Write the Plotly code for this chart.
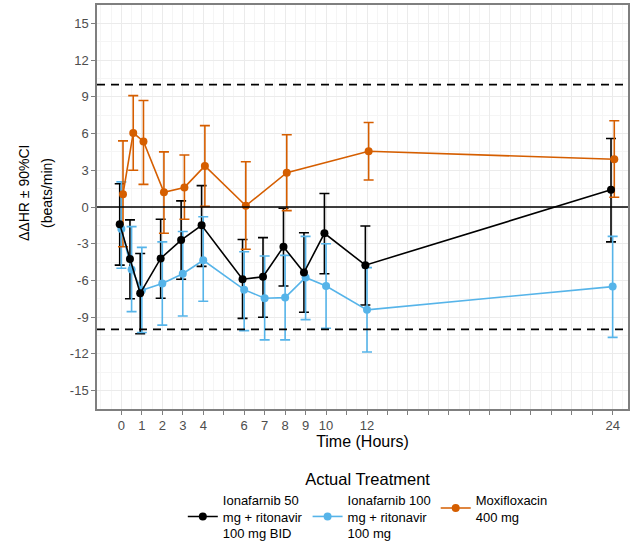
import plotly.graph_objects as go

# ---- data ----
ticks_hours = list(range(0, 25))
tick_labels_shown = [0, 1, 2, 3, 4, 6, 7, 8, 9, 10, 12, 24]
y_ticks = [-15, -12, -9, -6, -3, 0, 3, 6, 9, 12, 15]

# Ionafarnib 50 mg + ritonavir 100 mg BID
t_50 = [0, 0.5, 1, 2, 3, 4, 6, 7, 8, 9, 10, 12, 24]
v_50 = [-1.4, -4.25, -7.05, -4.2, -2.7, -1.5, -5.9, -5.7, -3.25, -5.35, -2.15, -4.75, 1.4]
hi_50 = [1.9, -1.05, -3.8, -1.0, 0.5, 1.75, -2.65, -2.5, -0.1, -2.1, 1.1, -1.55, 5.6]
lo_50 = [-4.75, -7.5, -10.35, -7.45, -5.9, -4.85, -9.1, -9.0, -6.45, -8.6, -5.45, -8.0, -2.85]

# Ionafarnib 100 mg + ritonavir 100 mg
t_100 = [0, 0.5, 1, 2, 3, 4, 6, 7, 8, 9, 10, 12, 24]
v_100 = [-1.8, -5.1, -6.8, -6.25, -5.45, -4.35, -6.75, -7.45, -7.4, -5.75, -6.45, -8.4, -6.5]
hi_100 = [2.05, -1.6, -3.3, -2.85, -2.0, -0.8, -3.65, -4.0, -3.95, -2.4, -3.0, -4.95, -2.4]
lo_100 = [-5.0, -8.55, -10.25, -9.65, -8.9, -7.7, -10.1, -10.85, -10.85, -9.2, -9.9, -11.85, -10.65]

# Moxifloxacin 400 mg
t_moxi = [0, 0.5, 1, 2, 3, 4, 6, 8, 12, 24]
v_moxi = [1.05, 6.05, 5.35, 1.2, 1.6, 3.35, 0.1, 2.8, 4.55, 3.9]
hi_moxi = [5.4, 9.1, 8.7, 4.5, 4.25, 6.65, 3.7, 5.9, 6.9, 7.05]
lo_moxi = [-3.25, 3.0, 1.85, -2.15, -1.0, 0.05, -3.45, -0.3, 2.2, 0.8]

series = [
    ("Ionafarnib 50<br>mg + ritonavir<br>100 mg BID", t_50, v_50, hi_50, lo_50, "#000000", -0.08, 1),
    ("Ionafarnib 100<br>mg + ritonavir<br>100 mg", t_100, v_100, hi_100, lo_100, "#56B4E9", 0.0, 2),
    ("Moxifloxacin<br>400 mg", t_moxi, v_moxi, hi_moxi, lo_moxi, "#D55E00", 0.08, 3),
]

ref_solid = 0
ref_dashed = [10, -10]

FONT = "Liberation Sans, Arial, sans-serif"

fig = go.Figure()

# error bars layer
for name, t, v, hi, lo, col, dx, rank in series:
    fig.add_trace(go.Scatter(
        x=[ti + dx for ti in t], y=v, mode="markers",
        marker=dict(size=1, opacity=0, color=col),
        error_y=dict(type="data", symmetric=False,
                     array=[h - m for h, m in zip(hi, v)],
                     arrayminus=[m - l for m, l in zip(v, lo)],
                     color=col, thickness=1.6, width=5),
        showlegend=False, hoverinfo="skip"))

# lines + points layer (black drawn last, on top)
for name, t, v, hi, lo, col, dx, rank in reversed(series):
    fig.add_trace(go.Scatter(
        x=[ti + dx for ti in t], y=v, mode="lines+markers", name=name,
        legendrank=rank,
        line=dict(color=col, width=1.6),
        marker=dict(color=col, size=8)))

fig.add_hline(y=ref_solid, line=dict(color="#000000", width=1.5), layer="above")
for yv in ref_dashed:
    fig.add_hline(y=yv, line=dict(color="#000000", width=1.8, dash="8px,6px"), layer="above")

grid = "#EBEBEB"
axis_col = "#7F7F7F"
tick_font = dict(family=FONT, size=13, color="#4D4D4D")

fig.update_xaxes(
    range=[-1.19, 24.75],
    tickmode="array", tickvals=ticks_hours,
    ticktext=[str(h) if h in tick_labels_shown else "" for h in ticks_hours],
    ticks="outside", ticklen=4, tickwidth=1.2, tickcolor=axis_col,
    tickfont=tick_font,
    showgrid=True, gridcolor=grid, gridwidth=1,
    minor=dict(dtick=0.5, tick0=0.5, showgrid=True, gridcolor="#F5F5F5", gridwidth=0.6),
    showline=True, linecolor=axis_col, linewidth=1.5, mirror=True,
    zeroline=False,
    title=dict(text="Time (Hours)", font=dict(family=FONT, size=16, color="#000000"), standoff=1),
)
fig.update_yaxes(
    range=[-16.5, 16.5],
    tickmode="array", tickvals=y_ticks, ticktext=[str(v) for v in y_ticks],
    ticks="outside", ticklen=4, tickwidth=1.2, tickcolor=axis_col,
    tickfont=tick_font,
    showgrid=True, gridcolor=grid, gridwidth=1,
    minor=dict(tickvals=[-16.5 + 1.5 * k for k in range(23) if k % 2 == 0], showgrid=True, gridcolor="#F5F5F5", gridwidth=0.6),
    showline=True, linecolor=axis_col, linewidth=1.5, mirror=True,
    zeroline=False,
)

# y-axis title as two rotated lines (ggplot-like spacing)
y_title_lines = ["ΔΔHR ± 90%CI", "(beats/min)"]
for i, txt in enumerate(y_title_lines):
    fig.add_annotation(
        text=txt, xref="paper", yref="paper", x=0, y=(409 - 193) / 404,
        xanchor="center", yanchor="middle", showarrow=False, textangle=-90,
        xshift=-97 + 24 + 23 * i,
        font=dict(family=FONT, size=14, color="#000000"))

fig.update_layout(
    width=631, height=541,
    margin=dict(l=97, r=3, t=5, b=132, autoexpand=False),
    paper_bgcolor="white", plot_bgcolor="white",
    font=dict(family=FONT, color="#000000"),
    legend=dict(
        orientation="h", x=0.51, xanchor="center", y=-0.134, yanchor="top",
        title=dict(text="Actual Treatment", side="top center",
                   font=dict(size=16.5, color="#000000")),
        font=dict(size=13, color="#000000"),
        itemwidth=30, valign="middle",
    ),
)

fig.write_html("out.html", config={"displayModeBar": False},
               post_script="document.body.style.margin='0';")
